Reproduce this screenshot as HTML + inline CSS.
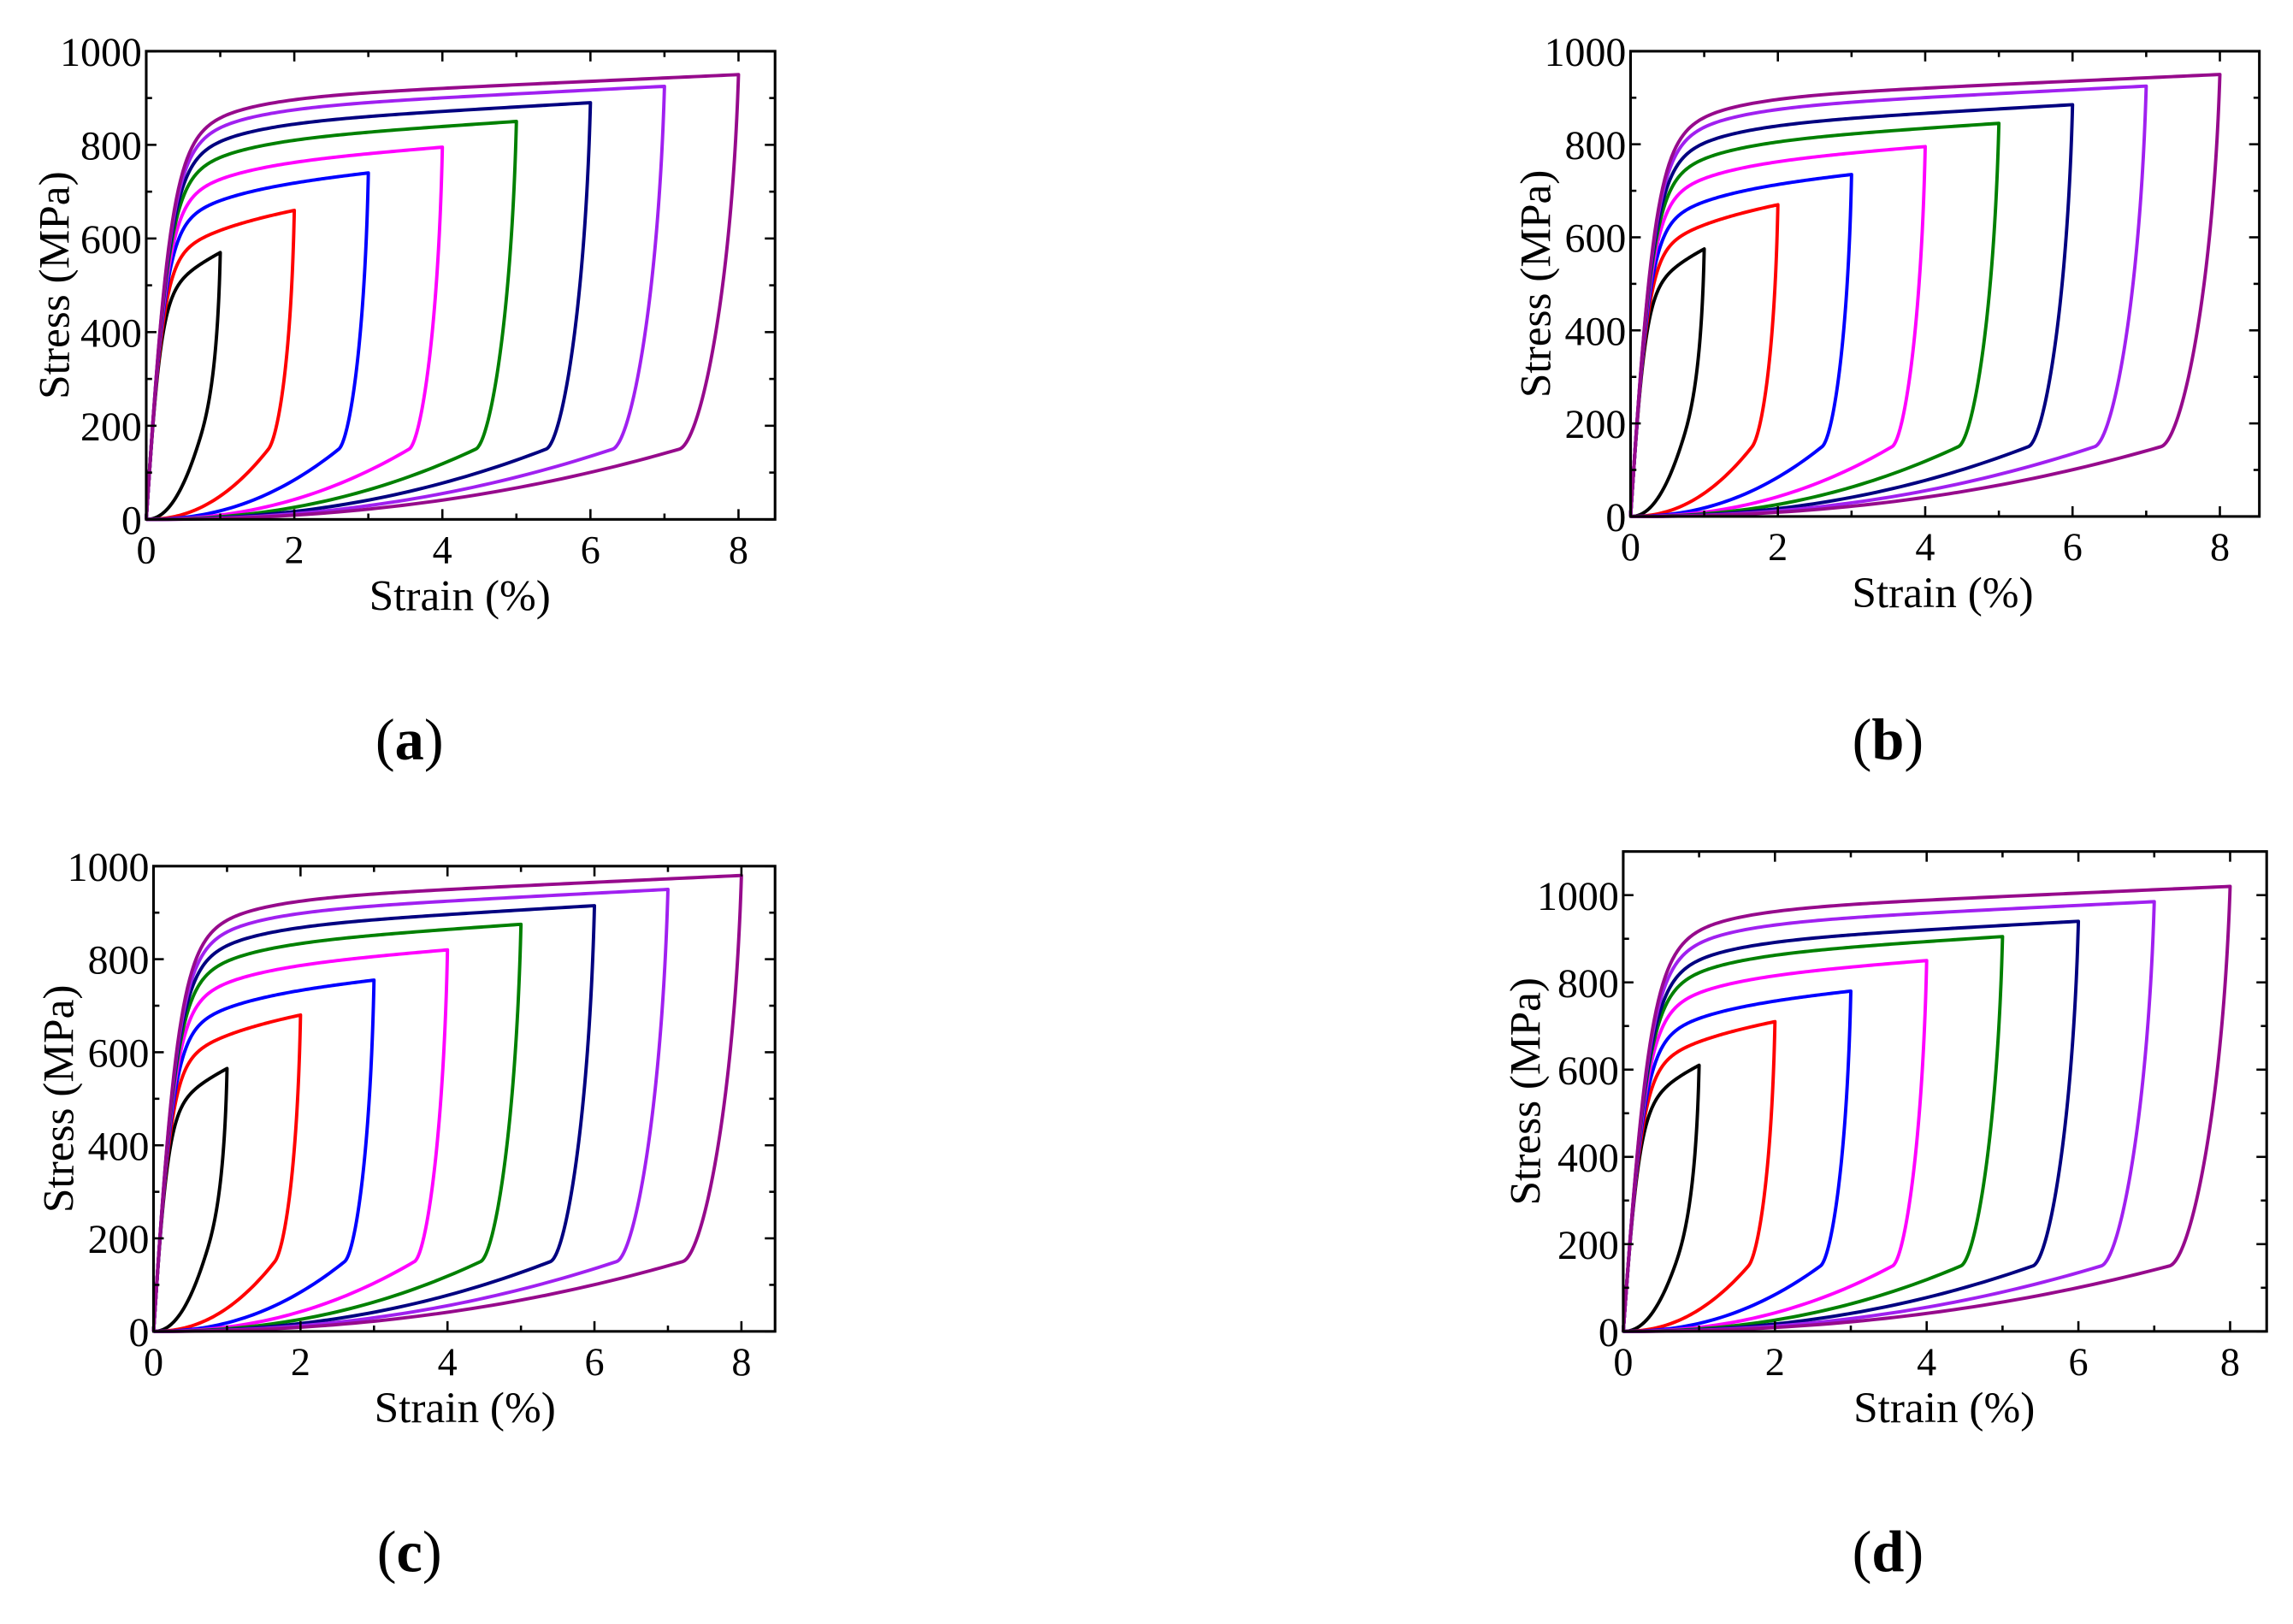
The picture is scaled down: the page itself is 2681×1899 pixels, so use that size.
<!DOCTYPE html>
<html><head><meta charset="utf-8">
<style>
html,body{margin:0;padding:0;background:#fff;}
svg{display:block;}
text{font-family:"Liberation Serif",serif;fill:#000;}
</style></head>
<body>
<svg id="fig" width="2681" height="1899" viewBox="0 0 1568 1110" preserveAspectRatio="none" xmlns="http://www.w3.org/2000/svg"></svg>
<script>
// ---- data ----
const peakStrain = [1,2,3,4,5,6,7,8];
const kneeStrain = [0.68,1.65,2.6,3.55,4.45,5.4,6.3,7.2];
const peaksA = [570,660,740,795,850,890,925,950];
const peaksB = [575,670,735,795,845,885,925,950];
const peaksC = [565,680,755,820,875,915,950,980];
const peaksD = [610,710,780,850,905,940,985,1020];
const xTicks = [0,2,4,6,8];
const yTicksABC = [0,200,400,600,800,1000];
const yTicksD = [0,200,400,600,800,1000];
const colors = ['#000000','#ff0000','#0000ff','#ff00ff','#008000','#000080','#a020f0','#960a8c'];

const panels = [
  {id:'a', peaks:peaksA, x0:100, x1:530, xEnd8:505, yTop:35, yBot:355, ymax:1000, yt:yTicksABC, lab:[280,505], ylx:37},
  {id:'b', peaks:peaksB, x0:1115, x1:1545, xEnd8:1518, yTop:35, yBot:353, ymax:1000, yt:yTicksABC, lab:[1291,505], ylx:1050},
  {id:'c', peaks:peaksC, x0:105, x1:530, xEnd8:507, yTop:592, yBot:910, ymax:1000, yt:yTicksABC, lab:[280,1060], ylx:40},
  {id:'d', peaks:peaksD, x0:1110, x1:1550, xEnd8:1525, yTop:582, yBot:910, ymax:1100, yt:yTicksD, lab:[1291,1060], ylx:1043}
];
const svg = document.getElementById('fig');
const NS = 'http://www.w3.org/2000/svg';
function mk(tag, attrs, parent){
  const e = document.createElementNS(NS, tag);
  for (const k in attrs) e.setAttribute(k, attrs[k]);
  (parent||svg).appendChild(e);
  return e;
}
const E = 2200;
function bez(p0,p1,p2,p3,t){const u=1-t;return u*u*u*p0+3*u*u*t*p1+3*u*t*t*p2+t*t*t*p3;}
panels.forEach(p => {
  const g = mk('g', {});
  
  
  const sx = v => p.x0 + v * (p.xEnd8 - p.x0) / 8;
  const sy = v => p.yBot - v * (p.yBot - p.yTop) / p.ymax;
  p.peaks.forEach((P, i) => {
    const S = peakStrain[i], K = kneeStrain[i];
    const A = 0.8 * P, B = 0.14 * P;
    const C = (P - A * Math.tanh(E * S / A) - B * (1 - Math.exp(-S / 0.8))) / S;
    const pts = [];
    for (let k = 0; k <= 160; k++) {
      const e = S * Math.pow(k / 160, 1.5);
      pts.push([e, A * Math.tanh(E * e / A) + B * (1 - Math.exp(-e / 0.8)) + C * e]);
    }
    const D = S - K;
    const slopeLow = 150 * 2.2 / K;
    const c2x = K + 0.35 * D;
    const c2y = 150 + slopeLow * 0.35 * D;
    for (let k = 1; k <= 60; k++) {
      const t = k / 60;
      pts.push([bez(S, S - 0.12 * D, c2x, K, t), bez(P, 0.5 * P, c2y, 150, t)]);
    }
    for (let k = 1; k <= 50; k++) {
      const e = K * (1 - k / 50);
      pts.push([e, 150 * Math.pow(e / K, 2.2)]);
    }
    const path = mk('polyline', {points: pts.map(q => sx(q[0]).toFixed(2) + ',' + sy(q[1]).toFixed(2)).join(' '), fill:'none', stroke:colors[i], 'stroke-width':2.3, 'stroke-linejoin':'round'}, g);
    
    
  });
  const fr = mk('rect', {x:p.x0, y:p.yTop, width:p.x1 - p.x0, height:p.yBot - p.yTop, fill:'none', stroke:'#000', 'stroke-width':1.8}, g);
  
  
  for (let v = 0; v <= 8; v++) {
    const L = v % 2 === 0 ? 7 : 4;
    mk('line', {x1:sx(v), x2:sx(v), y1:p.yBot, y2:p.yBot - L, stroke:'#000', 'stroke-width':1.5}, g);
    mk('line', {x1:sx(v), x2:sx(v), y1:p.yTop, y2:p.yTop + L, stroke:'#000', 'stroke-width':1.5}, g);
  }
  xTicks.forEach(v => {
    const t = mk('text', {x:sx(v), y:p.yBot + 30, 'font-size':27, 'text-anchor':'middle'}, g);
    t.textContent = v;
    
    
  });
  for (let v = 0; v <= p.ymax; v += 100) {
    const L = v % 200 === 0 ? 7 : 4;
    mk('line', {x1:p.x0, x2:p.x0 + L, y1:sy(v), y2:sy(v), stroke:'#000', 'stroke-width':1.5}, g);
    mk('line', {x1:p.x1, x2:p.x1 - L, y1:sy(v), y2:sy(v), stroke:'#000', 'stroke-width':1.5}, g);
  }
  p.yt.forEach(v => {
    const t = mk('text', {x:p.x0 - 3, y:sy(v) + 10, 'font-size':28, 'text-anchor':'end'}, g);
    t.textContent = v;
    
    
  });
  const xl = mk('text', {x:(p.x0 + p.xEnd8) / 2 + 12, y:p.yBot + 62, 'font-size':30, 'text-anchor':'middle'}, g);
  xl.textContent = 'Strain (%)';
  
  
  const yc = (p.yTop + p.yBot) / 2;
  const yl = mk('text', {x:p.ylx, y:yc, 'font-size':30, 'text-anchor':'middle', transform:'rotate(-90 ' + (p.ylx) + ' ' + yc + ')', dy:10}, g);
  yl.textContent = 'Stress (MPa)';
  
  
  const pl = mk('text', {x:p.lab[0], y:p.lab[1] + 14, 'font-size':40, 'text-anchor':'middle'}, g);
  pl.innerHTML = '(<tspan font-weight="bold">' + p.id + '</tspan>)';
  
  
});
</script>
</body></html>
